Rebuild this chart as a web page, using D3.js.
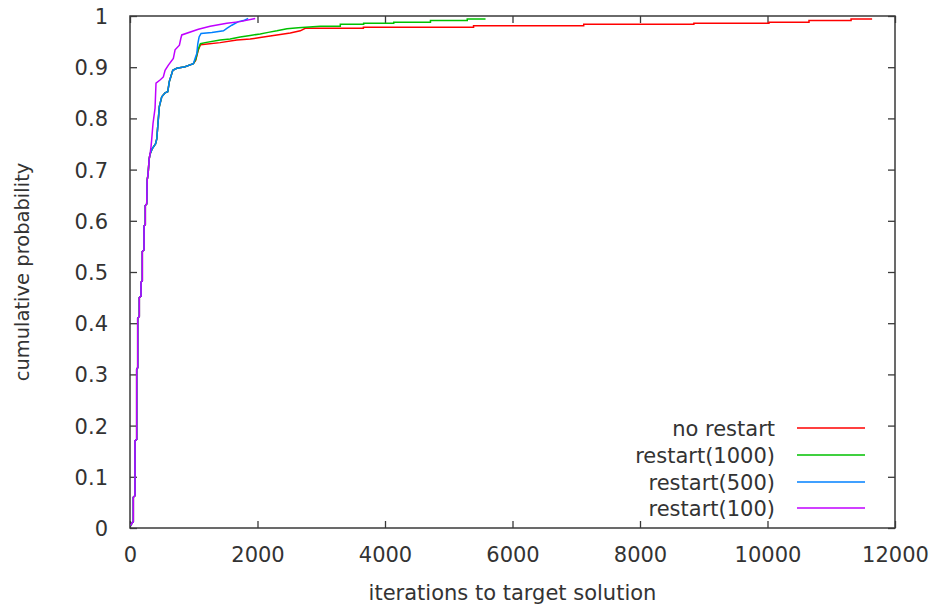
<!DOCTYPE html>
<html><head><meta charset="utf-8">
<script src="https://cdn.jsdelivr.net/npm/d3@7"></script>
<style>
body{margin:0;background:#fff}
svg text{font-family:"DejaVu Sans",sans-serif;fill:#333}
</style>
</head><body>
<svg id="chart" width="931" height="606"></svg>
<script>
// ---- data ----
const seriesNames = ["no restart", "restart(1000)", "restart(500)", "restart(100)"];
const seriesColors = ["#ff0000", "#00c000", "#0080ff", "#c000ff"];
const xTicks = [0, 2000, 4000, 6000, 8000, 10000, 12000];
const yTicks = [0, 0.1, 0.2, 0.3, 0.4, 0.5, 0.6, 0.7, 0.8, 0.9, 1];
const yTickLabels = ["0", "0.1", "0.2", "0.3", "0.4", "0.5", "0.6", "0.7", "0.8", "0.9", "1"];
const xTitle = "iterations to target solution";
const yTitle = "cumulative probability";

const noRestartIter = [15,30,52,52,78,78,105,105,121,121,146,146,173,173,193,193,220,220,240,240,262,270,283,300,314,
  345,400,420,435,460,498,550,592,617,639,671,734,864,994,1030,1070,1105,1178,1414,1676,1885,2042,2199,2357,2514,2671,2749,
  3661,3661,5389,5389,7117,7117,8845,8845,10023,10023,10651,10651,11311,11311,11641];
const noRestartProb = [.005,.01,.012,.06,.063,.17,.173,.31,.313,.41,.413,.45,.453,.48,.483,.54,.543,.59,.593,.63,.633,.68,.69,.72,.73,
  .74,.75,.76,.784,.823,.842,.850,.852,.872,.881,.894,.898,.901,.907,.913,.933,.944,.945,.948,.953,.955,.958,.961,.964,.967,.971,.976,
  .976,.978,.978,.981,.981,.984,.984,.986,.986,.988,.988,.991,.991,.994,.994];

const restart1000Iter = [15,30,52,52,78,78,105,105,121,121,146,146,173,173,193,193,220,220,240,240,262,270,283,300,314,
  345,400,420,435,460,498,550,592,617,639,671,734,864,994,1030,1070,1105,1178,1414,1571,1728,1885,2042,2168,2305,2462,2639,
  2985,3299,3299,3665,3665,4137,4137,4713,4713,5290,5290,5577];
const restart1000Prob = [.005,.01,.012,.06,.063,.17,.173,.31,.313,.41,.413,.45,.453,.48,.483,.54,.543,.59,.593,.63,.633,.68,.69,.72,.73,
  .74,.75,.76,.784,.823,.842,.850,.852,.872,.881,.894,.898,.901,.907,.915,.935,.946,.948,.953,.955,.959,.962,.965,.968,.971,.975,.977,
  .980,.980,.984,.984,.986,.986,.988,.988,.991,.991,.994,.994];

const restart500Iter = [15,30,52,52,78,78,105,105,121,121,146,146,173,173,193,193,220,220,240,240,262,270,283,300,314,
  345,400,420,435,460,498,550,592,617,639,671,734,864,994,1021,1048,1064,1084,1115,1284,1466,1519,1597,1701,1780,1854];
const restart500Prob = [.005,.01,.012,.06,.063,.17,.173,.31,.313,.41,.413,.45,.453,.48,.483,.54,.543,.59,.593,.63,.633,.68,.69,.72,.73,
  .74,.75,.76,.784,.823,.842,.850,.852,.872,.881,.894,.898,.901,.907,.917,.927,.946,.959,.966,.968,.971,.976,.982,.989,.991,.995];

const restart100Iter = [15,30,52,52,78,78,105,105,121,121,146,146,173,173,193,193,220,220,240,240,262,270,283,300,314,
  330,341,361,393,408,471,523,550,602,680,707,775,797,812,1073,1257,1519,1728,1964];
const restart100Prob = [.005,.01,.012,.06,.063,.17,.173,.31,.313,.41,.413,.45,.453,.48,.483,.54,.543,.59,.593,.63,.633,.68,.69,.72,.73,
  .745,.76,.79,.82,.869,.875,.881,.894,.904,.917,.934,.943,.956,.963,.974,.98,.986,.989,.995];

const seriesIter = [noRestartIter, restart1000Iter, restart500Iter, restart100Iter];
const seriesProb = [noRestartProb, restart1000Prob, restart500Prob, restart100Prob];

// ---- layout ----
const svg = d3.select("#chart");
const L = 130, R = 895, T = 16, B = 528;
const x = d3.scaleLinear().domain([0, 12000]).range([L, R]);
const y = d3.scaleLinear().domain([0, 1]).range([B, T]);
const frameColor = "#3a3a3a";
const tickLen = 7;
const fs = 21;
const textColor = "#333";

// ticks (inward, mirrored)
const gx = svg.append("g").attr("transform", `translate(0,${B})`)
  .call(d3.axisBottom(x).tickValues(xTicks).tickSize(-tickLen).tickPadding(19).tickFormat(d3.format("d")));
const gxTop = svg.append("g").attr("transform", `translate(0,${T})`)
  .call(d3.axisTop(x).tickValues(xTicks).tickSize(-tickLen).tickFormat(""));
const gy = svg.append("g").attr("transform", `translate(${L},0)`)
  .call(d3.axisLeft(y).tickValues(yTicks).tickSize(-tickLen).tickPadding(22).tickFormat((d, i) => yTickLabels[i]));
const gyR = svg.append("g").attr("transform", `translate(${R},0)`)
  .call(d3.axisRight(y).tickValues(yTicks).tickSize(-tickLen).tickFormat(""));

[gx, gxTop, gy, gyR].forEach(g => {
  g.select(".domain").remove();
  g.selectAll(".tick line").attr("stroke", frameColor).attr("stroke-width", 1.3);
  g.selectAll("text").attr("font-size", fs).attr("font-family", "DejaVu Sans").attr("fill", textColor);
});
gx.selectAll("text").attr("dy", null).attr("y", 0).attr("dominant-baseline", "auto")
  .attr("transform", "translate(0,34)");
gy.selectAll("text").attr("dy", "0.36em");

// frame
svg.append("rect").attr("x", L).attr("y", T).attr("width", R - L).attr("height", B - T)
  .attr("fill", "none").attr("stroke", frameColor).attr("stroke-width", 1.5);

// curves
const line = d3.line().x(d => x(d[0])).y(d => y(d[1]));
seriesNames.forEach((name, s) => {
  const pts = seriesIter[s].map((v, i) => [v, seriesProb[s][i]]);
  svg.append("path").datum(pts).attr("d", line)
    .attr("fill", "none").attr("stroke", seriesColors[s]).attr("stroke-width", 1.5)
    .attr("stroke-linejoin", "miter");
});

// legend
const legY = [428, 455, 482, 508];
seriesNames.forEach((name, s) => {
  svg.append("text").attr("x", 775).attr("y", legY[s]).attr("dy", "0.36em")
    .attr("text-anchor", "end").attr("font-size", fs).attr("fill", textColor).text(name);
  svg.append("line").attr("x1", 797).attr("x2", 865).attr("y1", legY[s]).attr("y2", legY[s])
    .attr("stroke", seriesColors[s]).attr("stroke-width", 1.5);
});

// axis titles
svg.append("text").attr("x", (L + R) / 2).attr("y", 600).attr("text-anchor", "middle")
  .attr("font-size", fs).attr("fill", textColor).text(xTitle);
svg.append("text").attr("transform", `translate(29,${(T + B) / 2}) rotate(-90)`)
  .attr("text-anchor", "middle").attr("font-size", 19.5).attr("fill", textColor).text(yTitle);
</script>
</body></html>
